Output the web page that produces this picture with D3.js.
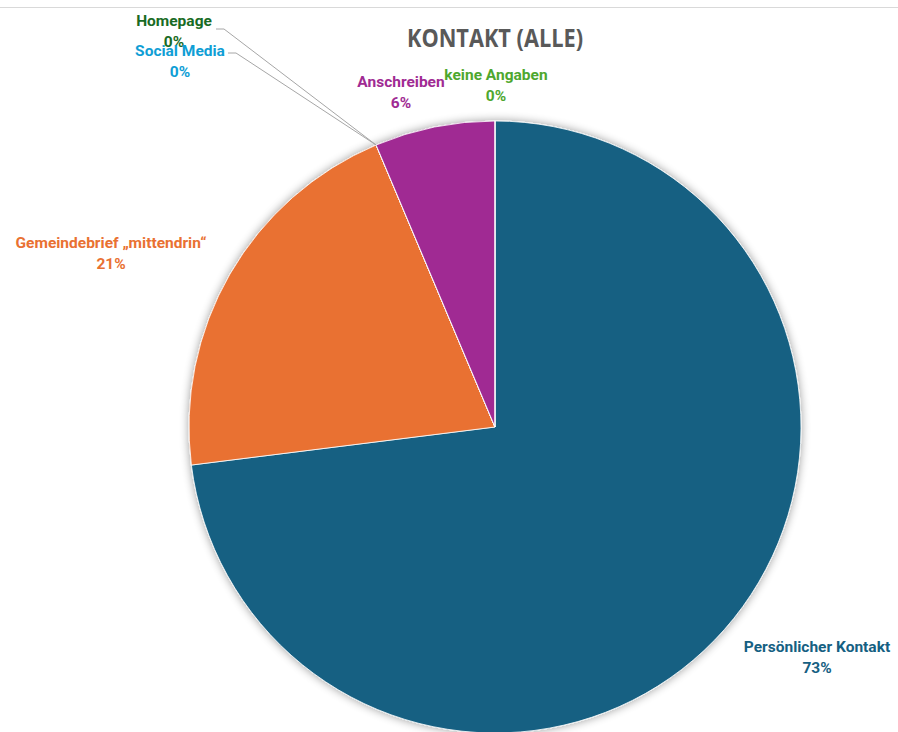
<!DOCTYPE html>
<html>
<head>
<meta charset="utf-8">
<script src="https://cdn.jsdelivr.net/npm/d3@7"></script>
<style>
  html, body { margin: 0; padding: 0; background: #fff; }
  svg { display: block; }
</style>
</head>
<body>
<div id="chart"></div>
<script>
// Kontakt (alle) - pie chart

const categories = ['Persönlicher Kontakt', 'Gemeindebrief „mittendrin“', 'Homepage', 'Social Media', 'Anschreiben', 'keine Angaben'];
const counts     = [46, 13, 0, 0, 4, 0];
const colors     = ['#156082', '#E97132', '#196B24', '#0F9ED5', '#A02B93', '#4EA72E'];

// label anchor (centre of the two text lines), picked to match the Excel layout
const labelPos = {
  'Persönlicher Kontakt':        [817, 652],
  'Gemeindebrief „mittendrin“':  [111, 248],
  'Homepage':                    [174, 26],
  'Social Media':                [180, 56],
  'Anschreiben':                 [401, 87],
  'keine Angaben':               [496, 80]
};
// labels that get a leader line (x where the line leaves the label)
const leaders = { 'Homepage': [216, 224, 29], 'Social Media': [228, 236, 53] };

const width = 898, height = 732;
const cx = 495, cy = 427, radius = 306;

const svg = d3.select('#chart').append('svg')
  .attr('width', width)
  .attr('height', height)
  .attr('viewBox', [0, 0, width, height]);

const defs = svg.append('defs');
const shadow = defs.append('filter').attr('id', 'shadow')
  .attr('x', '-10%').attr('y', '-10%').attr('width', '120%').attr('height', '120%');
shadow.append('feGaussianBlur').attr('in', 'SourceAlpha').attr('stdDeviation', 5);
shadow.append('feComponentTransfer').append('feFuncA').attr('type', 'linear').attr('slope', 0.4);
const merge = shadow.append('feMerge');
merge.append('feMergeNode');
merge.append('feMergeNode').attr('in', 'SourceGraphic');

svg.append('rect').attr('width', width).attr('height', height).attr('fill', '#fff');
svg.append('line')
  .attr('x1', 0).attr('x2', width).attr('y1', 7.5).attr('y2', 7.5)
  .attr('stroke', '#d9d9d9').attr('stroke-width', 1);

const data = categories.map((c, i) => ({ name: c, value: counts[i], color: colors[i] }));
const total = d3.sum(counts);

const pie = d3.pie().sort(null).value(d => d.value);
const arcs = pie(data);
const arc = d3.arc().innerRadius(0).outerRadius(radius);

const g = svg.append('g').attr('transform', `translate(${cx},${cy})`);

g.append('g')
  .attr('filter', 'url(#shadow)')
  .selectAll('path')
  .data(arcs)
  .join('path')
  .attr('d', arc)
  .attr('fill', d => d.data.color)
  .attr('stroke', '#fff')
  .attr('stroke-width', 0.8);

// leader lines for the tiny slices
const edge = a => [radius * Math.sin(a), -radius * Math.cos(a)];
svg.append('g')
  .selectAll('polyline')
  .data(arcs.filter(d => leaders[d.data.name]))
  .join('polyline')
  .attr('points', d => {
    const [x0, x1, y] = leaders[d.data.name];
    const [ex, ey] = edge(d.startAngle);
    return [[x0, y], [x1, y], [cx + ex, cy + ey]].map(p => p.join(',')).join(' ');
  })
  .attr('fill', 'none')
  .attr('stroke', '#a6a6a6')
  .attr('stroke-width', 1);

const fmt = d3.format('.0%');
const labels = svg.append('g')
  .attr('font-family', 'Roboto, "Noto Sans", sans-serif')
  .attr('font-weight', 'bold')
  .attr('font-size', 15.5)
  .attr('text-anchor', 'middle');

labels.selectAll('text')
  .data(arcs)
  .join('text')
  .attr('x', d => labelPos[d.data.name][0])
  .attr('y', d => labelPos[d.data.name][1])
  .attr('fill', d => d.data.color)
  .each(function (d) {
    const t = d3.select(this);
    t.append('tspan').text(d.data.name);
    t.append('tspan').attr('x', labelPos[d.data.name][0]).attr('dy', 20.5).text(fmt(d.value / total));
  });

svg.append('text')
  .attr('x', cx)
  .attr('y', 47)
  .attr('text-anchor', 'middle')
  .attr('font-family', '"Open Sans", sans-serif')
  .attr('font-weight', 'bold')
  .attr('font-size', 25)
  .attr('textLength', 176)
  .attr('lengthAdjust', 'spacingAndGlyphs')
  .attr('fill', '#595959')
  .text('KONTAKT (ALLE)');
</script>
</body>
</html>
